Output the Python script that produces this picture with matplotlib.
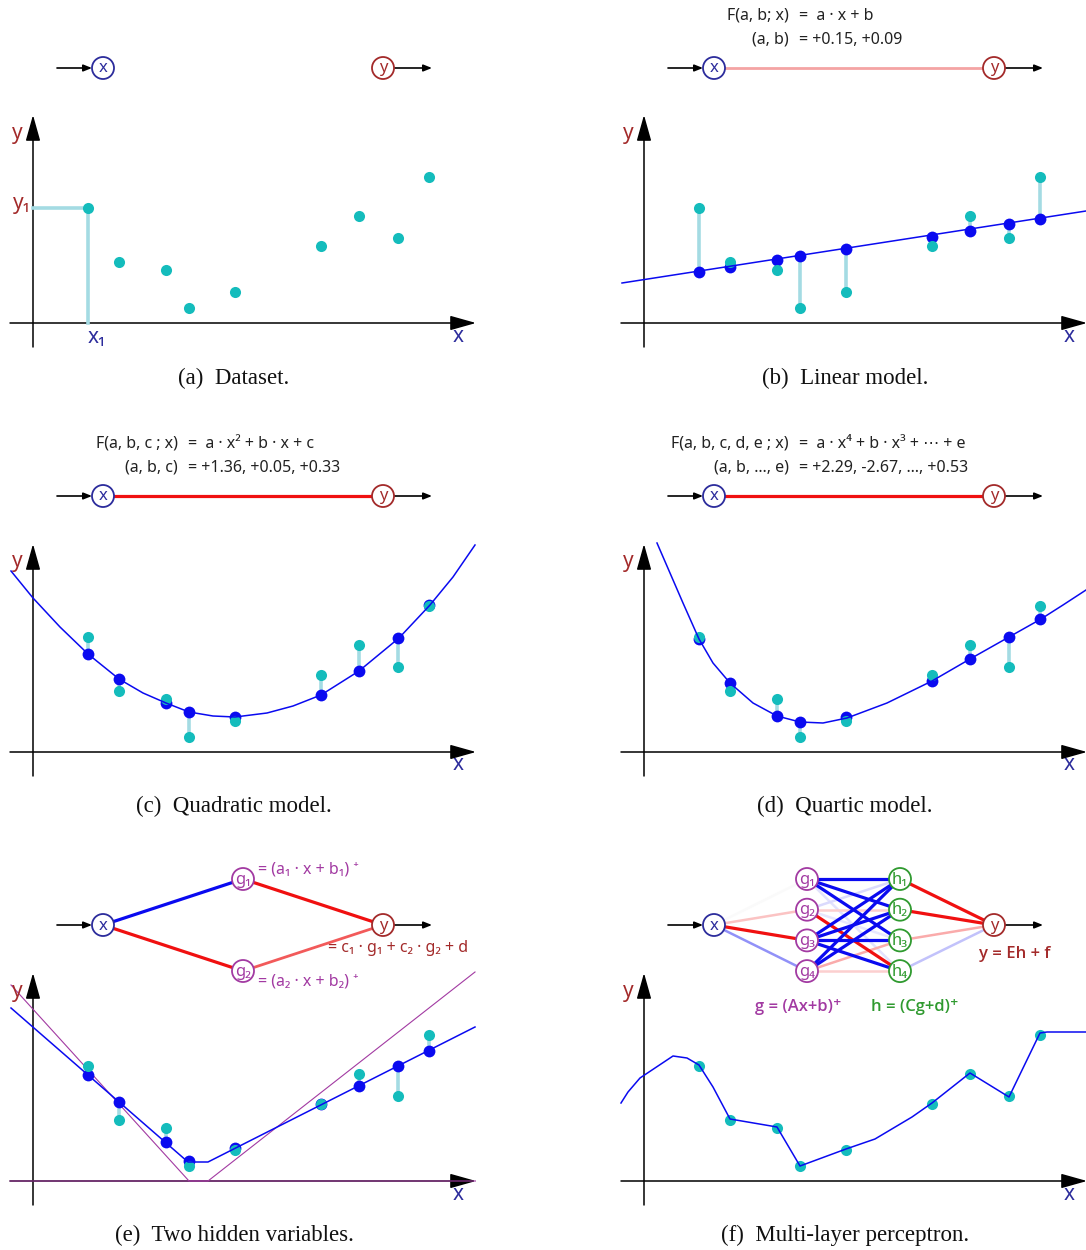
"""
Curve fitting figure: dataset, linear / quadratic / quartic fits,
a two-hidden-unit ReLU model and a small multi-layer perceptron.
"""

import matplotlib
matplotlib.use("Agg")
import matplotlib.pyplot as plt
from matplotlib.patches import Circle
from matplotlib.colors import to_rgb

W, H = 1086, 1250

# ---------------------------------------------------------------- data
X_DATA = [0.55, 0.86, 1.33, 1.56, 2.02, 2.88, 3.26, 3.65, 3.96]
Y_DATA = [1.15, 0.61, 0.53, 0.15, 0.31, 0.77, 1.07, 0.85, 1.46]

# (b) linear model
LIN_X = [-0.22, 4.42]
LIN_Y = [0.40, 1.12]
LIN_PRED = [0.51, 0.56, 0.63, 0.67, 0.74, 0.86, 0.92, 0.99, 1.04]

# (c) quadratic model
QUAD_X = [-0.22, 0.0, 0.27, 0.55, 0.86, 1.10, 1.33, 1.56, 1.80, 2.02,
          2.34, 2.60, 2.88, 3.26, 3.66, 3.97, 4.20, 4.42]
QUAD_Y = [1.81, 1.54, 1.25, 0.98, 0.73, 0.59, 0.49, 0.40, 0.36, 0.35,
          0.39, 0.46, 0.57, 0.81, 1.14, 1.47, 1.75, 2.07]
QUAD_PRED = [0.98, 0.73, 0.49, 0.40, 0.35, 0.57, 0.81, 1.14, 1.47]

# (d) quartic model
QUART_X = [0.13, 0.26, 0.39, 0.55, 0.69, 0.86, 1.09, 1.33, 1.56, 1.79,
           2.03, 2.43, 2.88, 3.26, 3.65, 3.97, 4.19, 4.42]
QUART_Y = [2.09, 1.79, 1.49, 1.13, 0.89, 0.69, 0.49, 0.36, 0.30, 0.29,
           0.34, 0.49, 0.71, 0.93, 1.15, 1.33, 1.47, 1.62]
QUART_PRED = [1.13, 0.69, 0.36, 0.30, 0.35, 0.71, 0.93, 1.15, 1.33]

# (e) two hidden ReLU units and their combination
RELU1_X = [-0.22, 1.56, 4.43]
RELU1_Y = [1.96, 0.0, 0.0]
RELU2_X = [-0.23, 1.75, 4.42]
RELU2_Y = [0.0, 0.0, 2.09]
TWO_X = [-0.22, 1.55, 1.75, 4.42]
TWO_Y = [1.73, 0.19, 0.19, 1.54]
TWO_PRED = [1.06, 0.79, 0.39, 0.20, 0.33, 0.77, 0.95, 1.15, 1.30]

# (f) MLP output
MLP_X = [-0.23, -0.16, -0.04, 0.29, 0.43, 0.55, 0.69, 0.86, 1.33, 1.56,
         2.02, 2.31, 2.68, 2.88, 3.26, 3.65, 3.96, 4.03, 4.42]
MLP_Y = [0.78, 0.89, 1.03, 1.25, 1.23, 1.16, 0.94, 0.62, 0.54, 0.15,
         0.32, 0.42, 0.64, 0.78, 1.08, 0.84, 1.48, 1.49, 1.49]

# MLP weights as drawn (sign -> colour, magnitude -> strength)
W_XG = [0.08, -0.25, -1.0, 0.45]
W_GH = [[1.0, 1.0, 1.0, 0.12],
        [0.15, -0.2, 0.1, -1.0],
        [1.0, 1.0, 1.0, 1.0],
        [1.0, 1.0, -0.35, -0.2]]
W_HY = [-1.0, -1.0, -0.35, 0.25]

CAPTIONS = ["(a)  Dataset.", "(b)  Linear model.", "(c)  Quadratic model.",
            "(d)  Quartic model.", "(e)  Two hidden variables.",
            "(f)  Multi-layer perceptron."]

# ---------------------------------------------------------------- style
XBLUE = "#2c2c9c"
YRED = "#a32a2a"
PURPLE = "#a23aa2"
GREEN = "#2f9a2f"
CYAN = "#14bcbc"
RESID = "#a4dbe3"
BLUE = "#0a0af0"
RED = "#f01010"
SANS = ["Noto Sans", "DejaVu Sans"]
SANS_BOLD = ["Open Sans", "DejaVu Sans"]
SERIF = ["Liberation Serif", "DejaVu Serif"]

# plot origin of each panel, in pixels (y-axis x, x-axis y)
ORIGINS = [(33, 323), (644, 323), (33, 752), (644, 752), (33, 1181), (644, 1181)]
NODE_Y = [68, 496, 925]
CAPTION_Y = [378, 806, 1235]


def make_plot_axes(fig, ox, oy):
    ax = fig.add_axes([(ox - 23) / W, (H - oy - 24) / H, 466 / W, 232 / H])
    ax.set_xlim(-0.23, 4.43)
    ax.set_ylim(-0.24, 2.08)
    ax.axis("off")
    head = "-|>,head_length=1.6,head_width=0.45"
    ax.annotate("", xy=(4.43, 0), xytext=(-0.23, 0),
                arrowprops=dict(arrowstyle=head, color="black", lw=1.1,
                                shrinkA=0, shrinkB=0), zorder=1)
    ax.annotate("", xy=(0, 2.08), xytext=(0, -0.24),
                arrowprops=dict(arrowstyle=head, color="black", lw=1.1,
                                shrinkA=0, shrinkB=0), zorder=1)
    ax.text(-0.16, 1.90, "y", color=YRED, fontsize=15, family=SANS,
            ha="center", va="center")
    ax.text(4.25, -0.13, "x", color=XBLUE, fontsize=15, family=SANS,
            ha="center", va="center")
    return ax


def draw_fit(ax, pred, curve_x=None, curve_y=None):
    for xv, yv, pv in zip(X_DATA, Y_DATA, pred):
        ax.plot([xv, xv], [yv, pv], color=RESID, lw=2.6, zorder=2,
                solid_capstyle="butt")
    ax.plot(X_DATA, pred, "o", color=BLUE, ms=8.5, mec="none", zorder=3)
    ax.plot(X_DATA, Y_DATA, "o", color=CYAN, ms=8, mec="none", zorder=4)
    if curve_x is not None:
        ax.plot(curve_x, curve_y, color=BLUE, lw=1.1, zorder=5, clip_on=False)


def node(cv, x, y, label, color):
    cv.add_patch(Circle((x, y), 11, facecolor="white", edgecolor=color,
                        lw=1.3, zorder=10))
    cv.text(x, y + 4.5, label, color=color, fontsize=12, family=SANS,
            ha="center", va="baseline", zorder=11)


def io_arrows(cv, xn, yn, y):
    props = dict(arrowstyle="-|>,head_length=0.5,head_width=0.2",
                 color="black", lw=1.2, shrinkA=0, shrinkB=0)
    cv.annotate("", xy=(xn - 11, y), xytext=(xn - 46, y), arrowprops=props)
    cv.annotate("", xy=(yn + 49, y), xytext=(yn + 11, y), arrowprops=props)


def edge(cv, p, q, color, lw=2.3):
    cv.plot([p[0], q[0]], [p[1], q[1]], color=color, lw=lw, zorder=6,
            solid_capstyle="butt")


def weight_colour(w):
    base = to_rgb(BLUE if w > 0 else RED)
    if abs(w) < 0.1:
        base = (0.75, 0.75, 0.75)
    a = min(1.0, abs(w))
    return tuple(1 - a * (1 - c) for c in base)


def formula(cv, dx, y0, lhs, rhs):
    for (l, r), y in zip(zip(lhs, rhs), (y0, y0 + 24)):
        cv.text(dx + 178, y, l, fontsize=11.5, family=SANS, ha="right",
                va="center", color="#222222")
        cv.text(dx + 188, y, r, fontsize=11.5, family=SANS, ha="left",
                va="center", color="#222222")


def main():
    fig = plt.figure(figsize=(W / 100, H / 100), dpi=100)

    axes = [make_plot_axes(fig, ox, oy) for ox, oy in ORIGINS]

    # (a) dataset with the first sample highlighted
    ax = axes[0]
    ax.plot([0, X_DATA[0], X_DATA[0]], [Y_DATA[0], Y_DATA[0], 0],
            color=RESID, lw=2.6, zorder=2)
    ax.plot(X_DATA, Y_DATA, "o", color=CYAN, ms=8, mec="none", zorder=4)
    ax.text(-0.11, 1.19, "y₁", color=YRED, fontsize=15, family=SANS,
            ha="center", va="center")
    ax.text(0.64, -0.15, "x₁", color=XBLUE, fontsize=15, family=SANS,
            ha="center", va="center")

    draw_fit(axes[1], LIN_PRED, LIN_X, LIN_Y)
    draw_fit(axes[2], QUAD_PRED, QUAD_X, QUAD_Y)
    draw_fit(axes[3], QUART_PRED, QUART_X, QUART_Y)

    ax = axes[4]
    ax.plot(RELU1_X, RELU1_Y, color=PURPLE, lw=0.8, zorder=1.5)
    ax.plot(RELU2_X, RELU2_Y, color=PURPLE, lw=0.8, zorder=1.5, clip_on=False)
    draw_fit(ax, TWO_PRED, TWO_X, TWO_Y)

    ax = axes[5]
    ax.plot(X_DATA, Y_DATA, "o", color=CYAN, ms=8, mec="none", zorder=4)
    ax.plot(MLP_X, MLP_Y, color=BLUE, lw=1.1, zorder=5, clip_on=False)

    # ------------------------------------------------ network diagrams
    cv = fig.add_axes([0, 0, 1, 1])
    cv.set_xlim(0, W)
    cv.set_ylim(H, 0)
    cv.axis("off")

    for i, dx in enumerate([0, 611, 0, 611]):
        y = NODE_Y[i // 2]
        xn, yn = 103 + dx, 383 + dx
        io_arrows(cv, xn, yn, y)
        if i == 1:
            edge(cv, (xn, y), (yn, y), "#f4a4a4", lw=2.0)
        elif i > 1:
            edge(cv, (xn, y), (yn, y), RED, lw=2.3)
        node(cv, xn, y, "x", XBLUE)
        node(cv, yn, y, "y", YRED)

    formula(cv, 611, 16, ["F(a, b; x)", "(a, b)"],
            ["=  a · x + b", "= +0.15, +0.09"])
    formula(cv, 0, 444, ["F(a, b, c ; x)", "(a, b, c)"],
            ["=  a · x² + b · x + c", "= +1.36, +0.05, +0.33"])
    formula(cv, 611, 444, ["F(a, b, c, d, e ; x)", "(a, b, …, e)"],
            ["=  a · x⁴ + b · x³ + ⋯ + e", "= +2.29, -2.67, …, +0.53"])

    # (e) two hidden variables
    y = NODE_Y[2]
    px, pg1, pg2, py = (103, y), (243, y - 46), (243, y + 46), (383, y)
    io_arrows(cv, 103, 383, y)
    edge(cv, px, pg1, BLUE)
    edge(cv, px, pg2, RED)
    edge(cv, pg1, py, RED)
    edge(cv, pg2, py, "#f25a5a", lw=2.0)
    node(cv, *px, "x", XBLUE)
    node(cv, *pg1, "g₁", PURPLE)
    node(cv, *pg2, "g₂", PURPLE)
    node(cv, *py, "y", YRED)
    cv.text(258, y - 55, "= (a₁ · x + b₁) ⁺", color=PURPLE, fontsize=11.5,
            family=SANS, ha="left", va="center")
    cv.text(258, y + 56, "= (a₂ · x + b₂) ⁺", color=PURPLE, fontsize=11.5,
            family=SANS, ha="left", va="center")
    cv.text(328, y + 23, "= c₁ · g₁ + c₂ · g₂ + d", color=YRED, fontsize=11.5,
            family=SANS, ha="left", va="center")

    # (f) multi-layer perceptron
    dx = 611
    px, py = (103 + dx, y), (383 + dx, y)
    gs = [(196 + dx, y - 46 + 30.7 * k) for k in range(4)]
    hs = [(289 + dx, y - 46 + 30.7 * k) for k in range(4)]
    io_arrows(cv, px[0], py[0], y)
    lines = []
    for k, w in enumerate(W_XG):
        lines.append((abs(w), px, gs[k], w))
    for a, row in enumerate(W_GH):
        for b, w in enumerate(row):
            lines.append((abs(w), gs[a], hs[b], w))
    for k, w in enumerate(W_HY):
        lines.append((abs(w), hs[k], py, w))
    for _, p, q, w in sorted(lines, key=lambda t: t[0]):
        edge(cv, p, q, weight_colour(w), lw=2.3 if abs(w) > 0.9 else 1.8)
    node(cv, *px, "x", XBLUE)
    node(cv, *py, "y", YRED)
    for k in range(4):
        node(cv, *gs[k], f"g{'₁₂₃₄'[k]}", PURPLE)
        node(cv, *hs[k], f"h{'₁₂₃₄'[k]}", GREEN)
    cv.text(1015, y + 29, "y = Eh + f", color=YRED, fontsize=12,
            family=SANS_BOLD, ha="center", va="center", fontweight="semibold")
    cv.text(798, y + 82, "g = (Ax+b)⁺", color=PURPLE, fontsize=12,
            family=SANS_BOLD, ha="center", va="center", fontweight="semibold")
    cv.text(915, y + 82, "h = (Cg+d)⁺", color=GREEN, fontsize=12,
            family=SANS_BOLD, ha="center", va="center", fontweight="semibold")

    # captions
    for i, cap in enumerate(CAPTIONS):
        cx = 234 if i % 2 == 0 else 845
        cv.text(cx, CAPTION_Y[i // 2], cap, fontsize=16.5, family=SERIF,
                ha="center", va="center", color="#111111")

    fig.savefig("out.png", dpi=100)


if __name__ == "__main__":
    main()
